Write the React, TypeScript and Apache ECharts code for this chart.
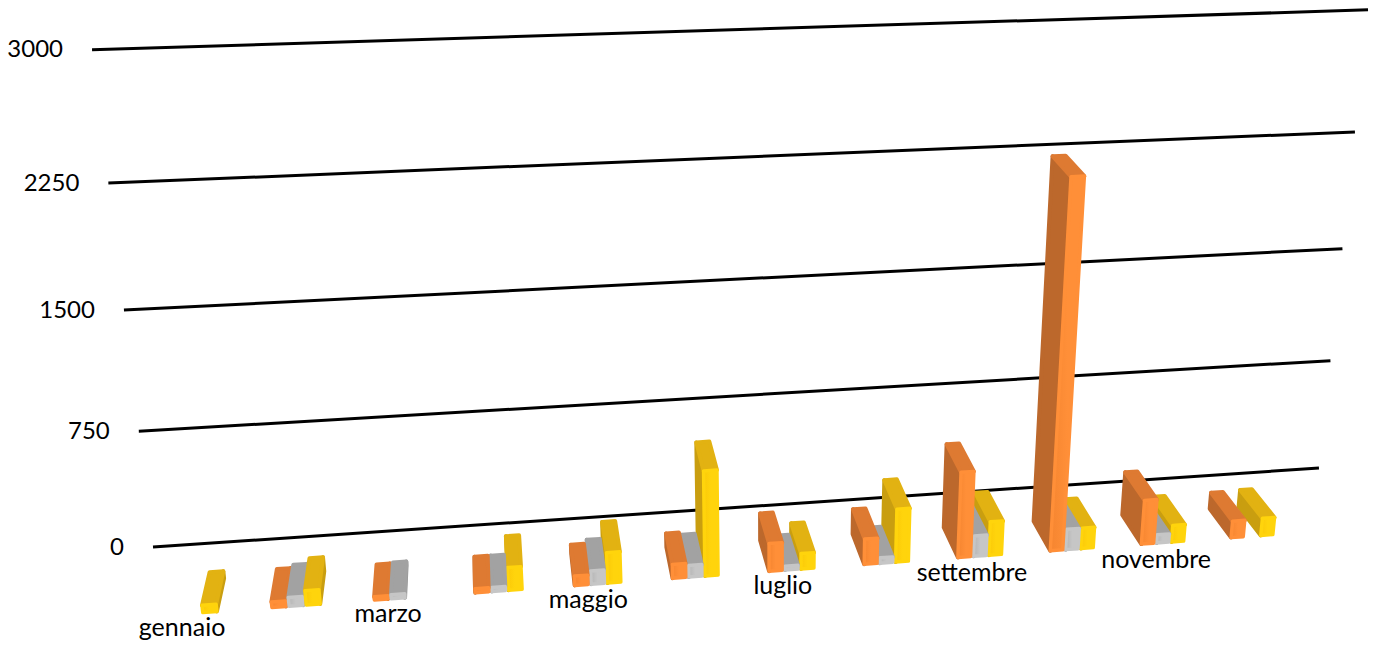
import React, { useEffect, useRef } from "react";
import * as echarts from "echarts";

const categories = ["gennaio","febbraio","marzo","aprile","maggio","giugno","luglio","agosto","settembre","ottobre","novembre","dicembre"];
const seriesA = [null, 35, 20, 25, 60, 90, 180, 165, 555, 2320, 290, 110];
const seriesB = [null, 55, 25, 25, 85, 75, 25, 35, 135, 135, 55, null];
const seriesC = [45, 90, null, 145, 195, 670, 100, 345, 220, 135, 110, 115];
const yTicks = [0, 750, 1500, 2250, 3000];

const palettes = [
  { front: ["#F58530", "#FF8F38"], top: "#DE7A32", side: "#BC682C" },
  { front: ["#B4B4B4", "#C6C6C6"], top: "#A2A2A2", side: "#929292" },
  { front: ["#FBC908", "#FFD40C"], top: "#E2B212", side: "#C99E10" },
];

// perspective: vanishing points of the three box directions
const VPX = [13840, -381], VPV = [771, 5586], VPD = [457, -503], ORIGIN = [153, 547];
const A = 0.09312, B = -0.0898, C = -0.063;
function project(u: number, f: number, d: number) {
  const au = A * u, bf = B * f, cd = C * d;
  const w = 1 + au + bf + cd;
  return [
    (ORIGIN[0] + au * VPX[0] + bf * VPV[0] + cd * VPD[0]) / w,
    (ORIGIN[1] + au * VPX[1] + bf * VPV[1] + cd * VPD[1]) / w,
  ];
}
const U0 = 0.0055, UK = 0.928, BAR = 0.0129, BACK = 0.54, INSET = 0.0012;
function norm(params: any, api: any, i: number, v: number) {
  const cs = params.coordSys;
  const p = api.coord([i, v]);
  return [U0 + UK * (p[0] - cs.x) / cs.width, (cs.y + cs.height - p[1]) / cs.height];
}

function barSeries(values: (number | null)[], s: number) {
  const pal = palettes[s];
  return {
    type: "custom",
    name: "s" + s,
    coordinateSystem: "cartesian2d",
    data: values.map((v, i) => [i, v]).filter((r) => r[1] !== null),
    encode: { x: 0, y: 1 },
    renderItem(params: any, api: any) {
      const i = api.value(0), v = api.value(1);
      const [, f] = norm(params, api, i, v);
      const [ub] = norm(params, api, i, 0);
      const c = ub + (s - 1) * BAR;
      const l = c - BAR / 2 + INSET, r = c + BAR / 2 - INSET;
      const fbl = project(l, 0, 1), fbr = project(r, 0, 1), ftl = project(l, f, 1), ftr = project(r, f, 1);
      const bbl = project(l, 0, BACK), bbr = project(r, 0, BACK), btl = project(l, f, BACK), btr = project(r, f, BACK);
      const z2 = (fbl[0] < VPD[0] ? s : 2 - s) * 10 + 10;
      const poly = (pts: number[][], fill: any, stroke: string, lw: number) => ({
        type: "polygon",
        z2,
        shape: { points: pts },
        style: { fill, stroke, lineWidth: lw, lineJoin: "round" },
      });
      const children: any[] = [];
      if (bbl[0] < fbl[0]) children.push(poly([btl, ftl, fbl, bbl], pal.side, pal.side, 4));
      if (bbr[0] > fbr[0]) children.push(poly([btr, ftr, fbr, bbr], pal.side, pal.side, 4));
      children.push(poly([btl, btr, ftr, ftl], pal.top, pal.top, 4));
      children.push(
        poly([ftl, ftr, fbr, fbl], new echarts.graphic.LinearGradient(0, 0, 1, 0, [
          { offset: 0, color: pal.front[0] },
          { offset: 0.5, color: pal.front[1] },
          { offset: 1, color: pal.front[1] },
        ]), pal.front[1], 3.5)
      );
      return { type: "group", children };
    },
    z: 3,
    silent: true,
  };
}

const fontFamily = "Lato";

export default function App() {
  const ref = useRef<HTMLDivElement>(null);
  useEffect(() => {
    const chart = echarts.init(ref.current!, null, { renderer: "svg" });
    chart.setOption({
      animation: false,
      backgroundColor: "#fff",
      grid: { left: 100, top: 60, width: 1100, height: 500 },
      xAxis: { type: "category", data: categories, show: false },
      yAxis: { type: "value", min: 0, max: 3000, interval: 750, show: false },
      series: [
        {
          type: "custom",
          name: "griglia",
          coordinateSystem: "cartesian2d",
          data: yTicks.map((t) => [0, t]),
          encode: { x: 0, y: 1 },
          z: 1,
          silent: true,
          renderItem(params: any, api: any) {
            const v = api.value(1);
            const [, f] = norm(params, api, 0, v);
            const a = project(0, f, 0), b = project(1, f, 0);
            return {
              type: "group",
              children: [
                { type: "line", shape: { x1: a[0], y1: a[1], x2: b[0], y2: b[1] }, style: { stroke: "#000", lineWidth: 3 } },
                {
                  type: "text",
                  style: { text: String(v), x: a[0] - 29, y: a[1] - 2, align: "right", verticalAlign: "middle", fill: "#000", font: `24px ${fontFamily}` },
                },
              ],
            };
          },
        },
        barSeries(seriesA, 0),
        barSeries(seriesB, 1),
        barSeries(seriesC, 2),
        {
          type: "custom",
          name: "etichette",
          coordinateSystem: "cartesian2d",
          data: categories.map((_, i) => [i, 0]).filter((r) => r[0] % 2 === 0),
          encode: { x: 0, y: 1 },
          z: 4,
          silent: true,
          renderItem(params: any, api: any) {
            const i = api.value(0);
            const [u] = norm(params, api, i, 0);
            const p = project(u * 0.9895 - 0.005, 0, 1.16 + 0.07 * u);
            return {
              type: "text",
              style: { text: categories[i], x: p[0], y: p[1], align: "center", verticalAlign: "middle", fill: "#000", font: `25px ${fontFamily}` },
            };
          },
        },
      ],
    });
    return () => chart.dispose();
  }, []);
  return <div ref={ref} style={{ position: "absolute", left: 0, top: 0, width: 1375, height: 645 }} />;
}
